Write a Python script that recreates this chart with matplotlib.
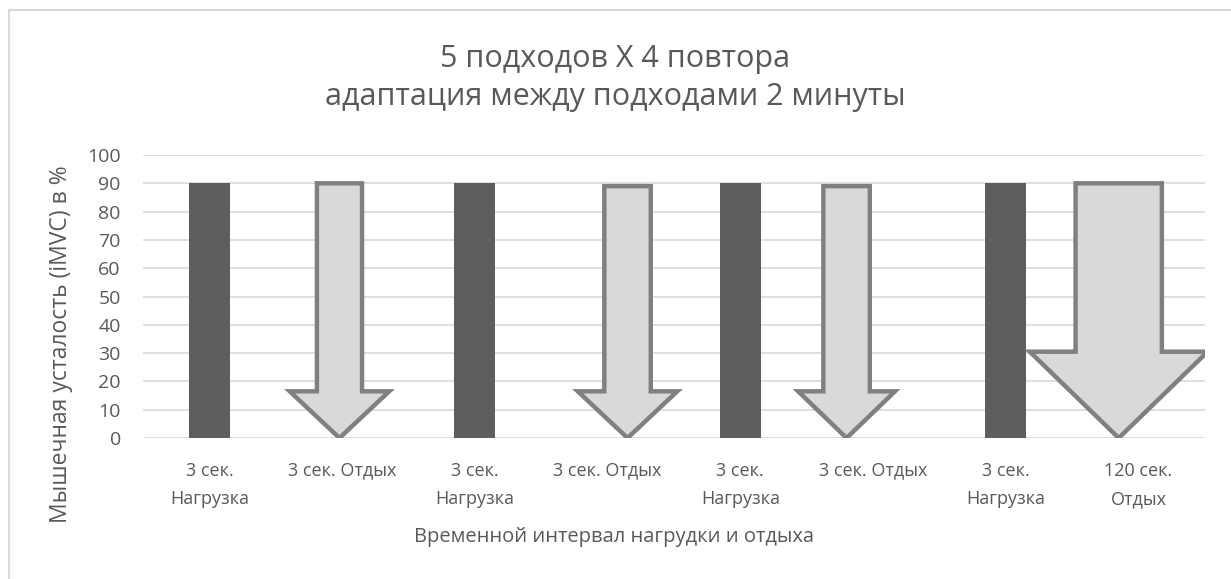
import numpy as np
import matplotlib
matplotlib.use('Agg')
import matplotlib.pyplot as plt
from matplotlib.patches import Polygon
from matplotlib.lines import Line2D

plt.rcParams['font.family'] = ['Open Sans', 'DejaVu Sans']

# порядок столбцов: нагрузка / отдых по очереди
categories = ['3 сек.\nНагрузка', '3 сек. Отдых', '3 сек.\nНагрузка', '3 сек. Отдых',
              '3 сек.\nНагрузка', '3 сек. Отдых', '3 сек.\nНагрузка', '120 сек.\nОтдых']
load_values = [90, 90, 90, 90]     # усталость после нагрузки
rest_values = [90, 89, 89, 90]     # восстановление во время отдыха (стрелка вниз)
yticks = np.arange(0, 101, 10)

title = '5 подходов X 4 повтора\nадаптация между подходами 2 минуты'
xlabel = 'Временной интервал нагрудки и отдыха'
ylabel = 'Мышечная усталость (iMVC) в %'

text_col = '#595959'
grid_col = '#d9d9d9'

fig = plt.figure(figsize=(12.31, 5.79), dpi=100)
ax = fig.add_axes([143/1231, 1-438/579, (1205-143)/1231, (438-155)/579])

x = np.arange(len(categories))
load_x = x[0::2]
rest_x = x[1::2]

ax.bar(load_x, load_values, width=0.31, color='#5e5e5e', zorder=3)

# стрелки для интервалов отдыха: ширина стержня, ширина наконечника, высота наконечника, сдвиг
shaft_w = [0.34, 0.35, 0.35, 0.65]
head_w = [0.75, 0.75, 0.73, 1.34]
head_h = [16.5, 16.5, 16.5, 30.5]
shift = [-0.02, 0.15, -0.2, -0.15]
for i, (cx, top) in enumerate(zip(rest_x, rest_values)):
    c = cx + shift[i]
    sw = shaft_w[i] / 2
    hw = head_w[i] / 2
    hh = head_h[i]
    pts = [(c - sw, top), (c + sw, top), (c + sw, hh), (c + hw, hh),
           (c, 0), (c - hw, hh), (c - sw, hh)]
    ax.add_patch(Polygon(pts, closed=True, facecolor='#d9d9d9', edgecolor='#808080',
                         linewidth=3.2, joinstyle='miter', zorder=4))

ax.set_xlim(-0.5, len(categories) - 0.5)
ax.set_ylim(0, 100)
ax.set_yticks(yticks)
ax.set_xticks(x)
ax.set_xticklabels(categories, linespacing=1.75)
ax.yaxis.grid(True, color=grid_col, linewidth=1.2, zorder=0)
ax.set_axisbelow(True)
for s in ax.spines.values():
    s.set_visible(False)
ax.tick_params(length=0, colors=text_col)
ax.tick_params(axis='x', pad=17, labelsize=13)
ax.tick_params(axis='y', pad=16, labelsize=14)

ax.set_xlabel(xlabel, color=text_col, fontsize=14.5)
ax.set_ylabel(ylabel, color=text_col, fontsize=16.5)
ax.xaxis.set_label_coords(0.4435, -0.315)
ax.yaxis.set_label_coords(-0.066, 0.33)
fig.text(0.5, 1 - 78/579, title, ha='center', va='center', color=text_col,
         fontsize=22, linespacing=1.33)

# рамка области диаграммы
fig.add_artist(Line2D([9/1231, 9/1231], [0, 1 - 10/579], color='#d9d9d9', linewidth=1.5))
fig.add_artist(Line2D([9/1231, 1], [1 - 10/579, 1 - 10/579], color='#d9d9d9', linewidth=1.5))

fig.savefig('out.png', dpi=100, facecolor='white')
